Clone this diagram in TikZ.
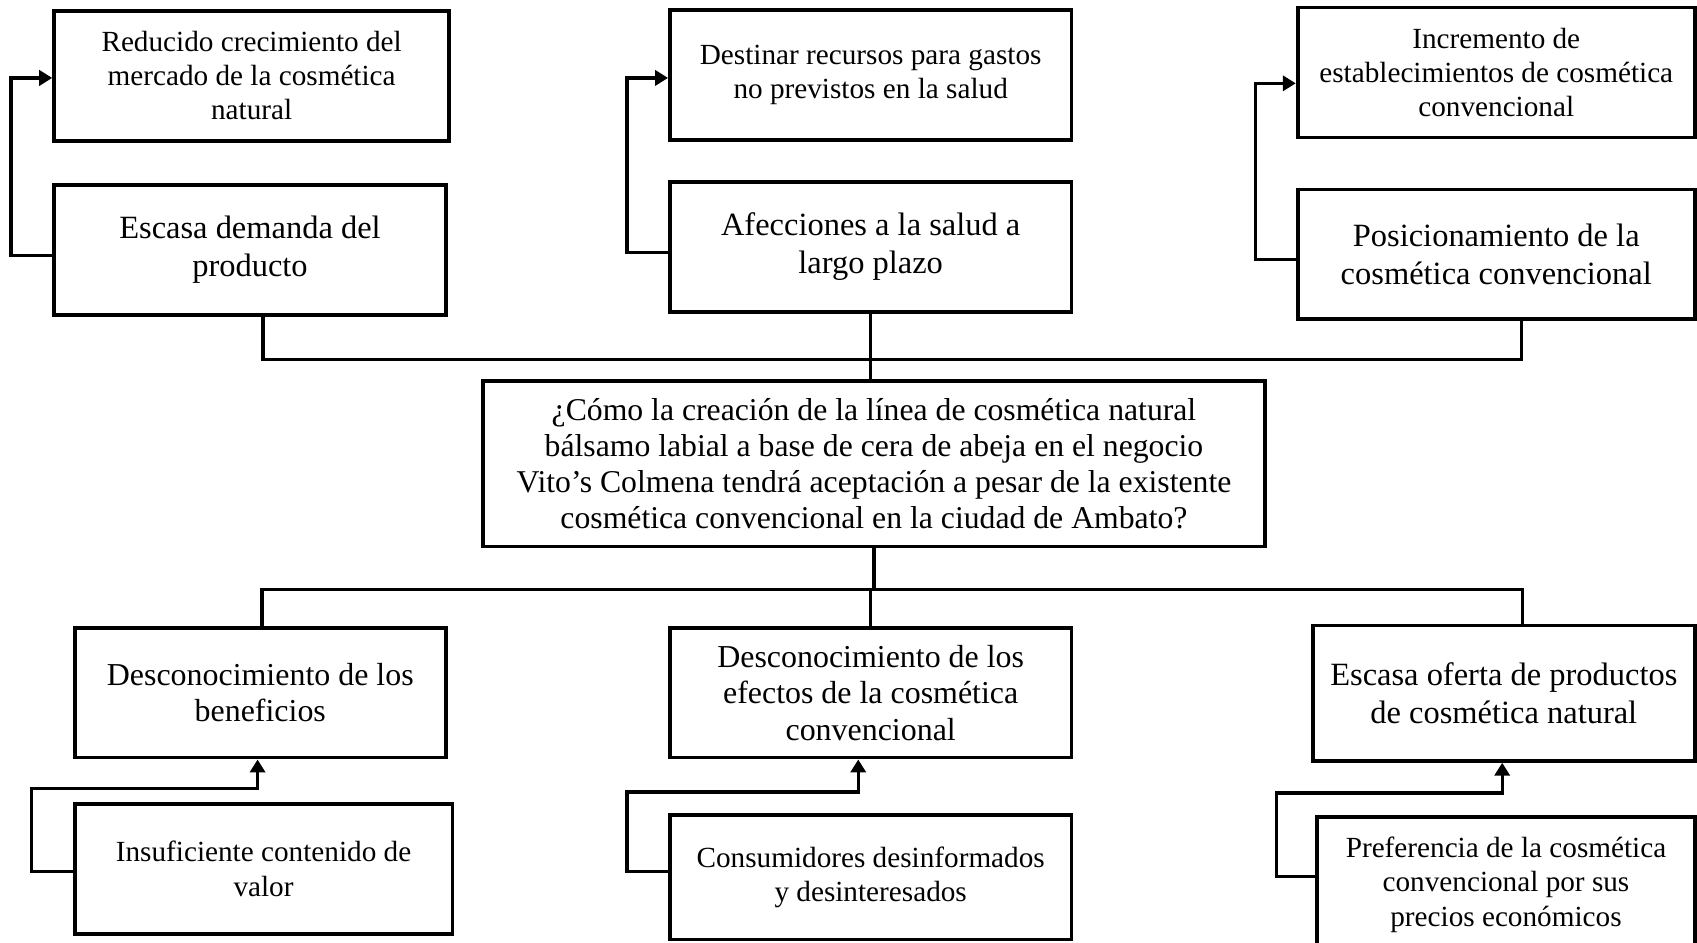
\documentclass[tikz,border=0pt]{standalone}
\usepackage{fontspec}
\setmainfont{Liberation Serif}
\usetikzlibrary{arrows.meta}
\begin{document}
\tikzset{
  box/.style={draw, line width=3.5pt, align=center, inner sep=0pt, anchor=center},
  sm/.style={font=\fontsize{27}{31.5}\selectfont},
  smb/.style={font=\fontsize{27}{32}\selectfont},
  lg/.style={font=\fontsize{30}{35}\selectfont},
  md/.style={font=\fontsize{29.5}{33.7}\selectfont},
  link/.style={line width=3pt},
  arr/.style={line width=3pt, -{Triangle[length=12pt,width=14pt]}},
}
\begin{tikzpicture}[x=1pt,y=-1pt]
\useasboundingbox (0,0) rectangle (1568,871);
\clip (0,0) rectangle (1568,871);
\fill[white] (0,0) rectangle (1568,871);

% top row
\node[box, sm, minimum width=365pt, minimum height=120pt] (a1) at (232.5,70)
  {Reducido crecimiento del\\mercado de la cosmética\\natural};
\node[box, lg, minimum width=362pt, minimum height=120pt] (a2) at (231,231)
  {Escasa demanda del\\producto};
\node[box, sm, minimum width=371pt, minimum height=120pt] (b1) at (804.5,69)
  {Destinar recursos para gastos\\no previstos en la salud};
\node[box, lg, minimum width=371pt, minimum height=120pt] (b2) at (804.5,228)
  {Afecciones a la salud a\\largo plazo};
\node[box, sm, minimum width=367pt, minimum height=120pt] (c1) at (1382.5,67)
  {Incremento de\\establecimientos de cosmética\\convencional};
\node[box, lg, minimum width=367pt, minimum height=120pt] (c2) at (1382.5,235)
  {Posicionamiento de la\\cosmética convencional};

% central question
\node[box, font=\fontsize{29.3}{33.5}\selectfont, minimum width=723pt, minimum height=153pt] (q) at (807.5,428.5)
  {¿Cómo la creación de la línea de cosmética natural\\bálsamo labial a base de cera de abeja en el negocio\\Vito’s Colmena tendrá aceptación a pesar de la existente\\cosmética convencional en la ciudad de Ambato?};

% bottom row
\node[box, md, minimum width=343pt, minimum height=120pt] (d1) at (240.5,640)
  {Desconocimiento de los\\beneficios};
\node[box, smb, minimum width=349pt, minimum height=120pt] (d2) at (243.5,803)
  {Insuficiente contenido de\\valor};
\node[box, md, minimum width=371pt, minimum height=120pt] (e1) at (804.5,640)
  {Desconocimiento de los\\efectos de la cosmética\\convencional};
\node[box, smb, minimum width=371pt, minimum height=115pt] (e2) at (804.5,810.5)
  {Consumidores desinformados\\y desinteresados};
\node[box, lg, minimum width=353pt, minimum height=125pt] (f1) at (1389.5,640.5)
  {Escasa oferta de productos\\de cosmética natural};
\node[box, smb, minimum width=349pt, minimum height=125pt] (f2) at (1391.5,817.5)
  {Preferencia de la cosmética\\convencional por sus\\precios económicos};

% junction coordinates
\coordinate (hl) at (243,332);
\coordinate (hr) at (1406,332);
\coordinate (bl) at (242,545);
\coordinate (br) at (1407,545);

% top connectors
\draw[link] (a2.south -| hl) -- (hl) -- (hr) -- (c2.south -| hr);
\draw[link] (b2.south) -- (b2.south |- q.north);

% bottom connectors
\draw[link] (q.south) -- (q.south |- bl);
\draw[link] (d1.north -| bl) -- (bl) -- (br) -- (f1.north -| br);
\draw[link] (e1.north) -- (e1.north |- bl);

% top arrows
\draw[arr] ([yshift=-5pt]a2.west) -- ++(-38,0) |- ([yshift=-2pt]a1.west);
\draw[arr] ([yshift=-5pt]b2.west) -- ++(-38,0) |- ([yshift=-3pt]b1.west);
\draw[arr] ([yshift=-5pt]c2.west) -- ++(-37,0) |- ([yshift=-10pt]c1.west);

% bottom arrows
\draw[arr] ([yshift=-2pt]d2.west) -- ++(-38,0) |- ([xshift=-2.5pt,yshift=-27pt]d1.south) -- ([xshift=-2.5pt]d1.south);
\draw[arr] ([yshift=5.5pt]e2.west) -- ++(-38,0) |- ([xshift=-11.5pt,yshift=-30pt]e1.south) -- ([xshift=-11.5pt]e1.south);
\draw[arr] ([yshift=7.5pt]f2.west) -- ++(-36,0) |- ([xshift=-1.5pt,yshift=-28pt]f1.south) -- ([xshift=-1.5pt]f1.south);
\end{tikzpicture}
\end{document}
